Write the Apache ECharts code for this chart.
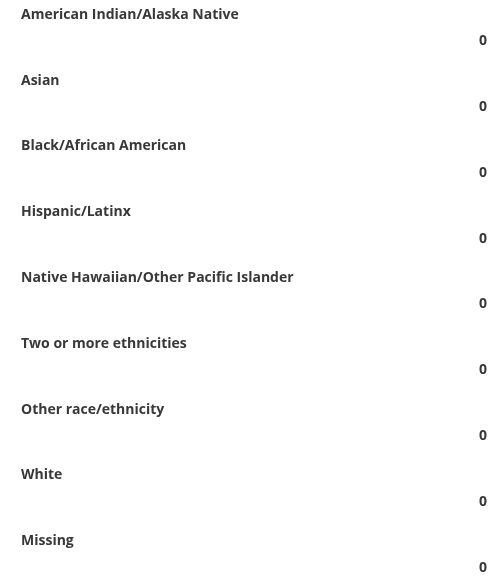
<!DOCTYPE html>
<html lang="en">
<head>
    <meta charset="UTF-8">
    <title>Race/ethnicity</title>
    <script src="https://cdn.jsdelivr.net/npm/echarts@6/dist/echarts.min.js"></script>
    <style>
        html, body { margin: 0; padding: 0; background: #fff; }
        #graph { width: 490px; height: 577px; }
    </style>
</head>
<body>
<div id="graph"></div>
<script>
    var categories = [
        'American Indian/Alaska Native',
        'Asian',
        'Black/African American',
        'Hispanic/Latinx',
        'Native Hawaiian/Other Pacific Islander',
        'Two or more ethnicities',
        'Other race/ethnicity',
        'White',
        'Missing'
    ];
    var values = [0, 0, 0, 0, 0, 0, 0, 0, 0];

    var myChart = echarts.init(document.getElementById('graph'));
    var textColor = '#383838';
    var font = 'Open Sans';

    option = {
        animation: false,
        grid: { left: 21, right: 3, top: -18, height: 592, outerBoundsMode: 'none' },
        xAxis: { type: 'value', min: 0, max: 1, show: false },
        yAxis: [
            {
                // category names, drawn on top of each row
                type: 'category',
                data: categories,
                inverse: true,
                axisLine: { show: false },
                axisTick: { show: false },
                axisLabel: {
                    inside: true,
                    interval: 0,
                    showMinLabel: true,
                    showMaxLabel: true,
                    margin: 0,
                    align: 'left',
                    color: textColor,
                    fontFamily: font,
                    fontWeight: 'bold',
                    fontSize: 14
                }
            },
            {
                // values, right aligned below the name
                type: 'category',
                data: categories,
                inverse: true,
                position: 'right',
                axisLine: { show: false },
                axisTick: { show: false },
                axisLabel: {
                    interval: 0,
                    showMinLabel: true,
                    showMaxLabel: true,
                    hideOverlap: false,
                    margin: 0,
                    align: 'right',
                    lineHeight: 53,
                    color: textColor,
                    fontFamily: font,
                    fontWeight: 'bold',
                    fontSize: 14,
                    formatter: function (v, i) { return '\n' + values[i]; }
                }
            }
        ],
        series: [
            {
                type: 'bar',
                data: values,
                barWidth: 10,
                itemStyle: { color: '#4e79a7' }
            }
        ]
    };

    myChart.setOption(option);
</script>
</body>
</html>
